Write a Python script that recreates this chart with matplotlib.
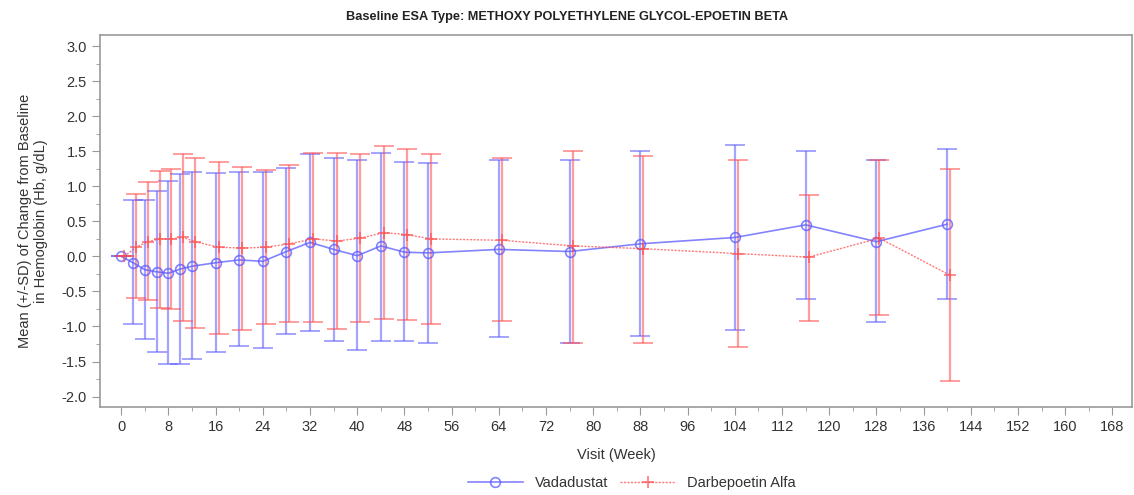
import numpy as np
import matplotlib
matplotlib.use("Agg")
import matplotlib.pyplot as plt
from matplotlib.ticker import MultipleLocator, FormatStrFormatter

plt.rcParams['font.family'] = ['Liberation Sans', 'DejaVu Sans']

# visits (weeks)
weeks = [0, 2, 4, 6, 8, 10, 12, 16, 20, 24, 28, 32, 36, 40, 44, 48, 52, 64, 76, 88, 104, 116, 128, 140]

# Vadadustat: mean, mean+SD, mean-SD
vada_mean = [0.00, -0.09, -0.19, -0.22, -0.24, -0.18, -0.14, -0.09, -0.05, -0.07, 0.07, 0.20,
             0.10, 0.01, 0.15, 0.06, 0.05, 0.10, 0.07, 0.18, 0.27, 0.45, 0.21, 0.46]
vada_upper = [0.00, 0.80, 0.80, 0.94, 1.07, 1.17, 1.20, 1.19, 1.20, 1.20, 1.26, 1.46,
              1.41, 1.37, 1.48, 1.35, 1.33, 1.38, 1.38, 1.50, 1.59, 1.50, 1.37, 1.53]
vada_lower = [0.00, -0.97, -1.18, -1.36, -1.54, -1.53, -1.46, -1.36, -1.28, -1.31, -1.10, -1.07,
              -1.21, -1.34, -1.21, -1.21, -1.23, -1.15, -1.23, -1.13, -1.05, -0.61, -0.94, -0.61]

# Darbepoetin Alfa
darb_mean = [0.00, 0.13, 0.21, 0.25, 0.25, 0.27, 0.21, 0.13, 0.12, 0.13, 0.18, 0.25,
             0.22, 0.26, 0.34, 0.31, 0.25, 0.23, 0.15, 0.11, 0.04, -0.01, 0.26, -0.27]
darb_upper = [0.00, 0.89, 1.06, 1.22, 1.25, 1.46, 1.41, 1.35, 1.27, 1.24, 1.30, 1.48,
              1.48, 1.46, 1.57, 1.53, 1.46, 1.40, 1.51, 1.43, 1.38, 0.88, 1.37, 1.25]
darb_lower = [0.00, -0.60, -0.62, -0.73, -0.75, -0.92, -1.02, -1.10, -1.05, -0.97, -0.94, -0.94,
              -1.04, -0.94, -0.89, -0.91, -0.97, -0.92, -1.23, -1.23, -1.29, -0.92, -0.84, -1.78]

x_ticks = np.arange(0, 169, 8)

blue = '#5a5aff'
red = '#ff4d4d'

fig = plt.figure(figsize=(11.34, 4.95), dpi=100)
ax = fig.add_axes([0.0882, 0.178, 0.910, 0.751])

wk = np.array(weeks, dtype=float)
vm = np.array(vada_mean)
dm = np.array(darb_mean)
vy_err = [vm - np.array(vada_lower), np.array(vada_upper) - vm]
dy_err = [dm - np.array(darb_lower), np.array(darb_upper) - dm]

# error bars (translucent like the original)
ax.errorbar(wk, vm, yerr=vy_err, fmt='none', ecolor=blue, elinewidth=1.6,
            capsize=7, capthick=1.4, alpha=0.55, zorder=2)
ax.errorbar(wk + 0.5, dm, yerr=dy_err, fmt='none', ecolor=red, elinewidth=1.6,
            capsize=7, capthick=1.4, alpha=0.55, zorder=2)

ax.plot(wk, vm, color=blue, lw=1.2, alpha=0.75, marker='o', ms=7,
        mfc='none', mec=blue, mew=1.2, label='Vadadustat', zorder=3)
ax.plot(wk + 0.5, dm, color=red, lw=1.0, ls=(0, (1.5, 1.0)), alpha=0.75, marker='+',
        ms=8, mec=red, mew=1.2, label='Darbepoetin Alfa', zorder=3)

ax.set_xlim(-3.6, 171.3)
ax.set_ylim(-2.147, 3.157)
ax.set_xticks(x_ticks)
ax.xaxis.set_minor_locator(MultipleLocator(4))
ax.yaxis.set_major_locator(MultipleLocator(0.5))
ax.yaxis.set_minor_locator(MultipleLocator(0.25))
ax.yaxis.set_major_formatter(FormatStrFormatter('%.1f'))

for s in ax.spines.values():
    s.set_color('#999999')
    s.set_linewidth(1.2)
ax.tick_params(which='major', length=6, color='#999999', labelsize=10.5, labelcolor='#333333')
ax.tick_params(which='minor', length=3, color='#999999')

ax.set_xlabel('Visit (Week)', fontsize=10.5, color='#333333', labelpad=10)
ax.set_ylabel('Mean (+/-SD) of Change from Baseline\nin Hemoglobin (Hb, g/dL)',
              fontsize=10.5, color='#333333', labelpad=10, linespacing=1.15)
fig.text(0.5, 0.965, 'Baseline ESA Type: METHOXY POLYETHYLENE GLYCOL-EPOETIN BETA',
         ha='center', va='center', fontsize=9.2, fontweight='bold', color='#222222')

fig.legend(loc='center', bbox_to_anchor=(0.557, 0.025), ncol=2, frameon=False,
           fontsize=10.5, handlelength=3.8, columnspacing=0.8, labelcolor='#333333')

plt.savefig('out.png', dpi=100)
plt.close()
